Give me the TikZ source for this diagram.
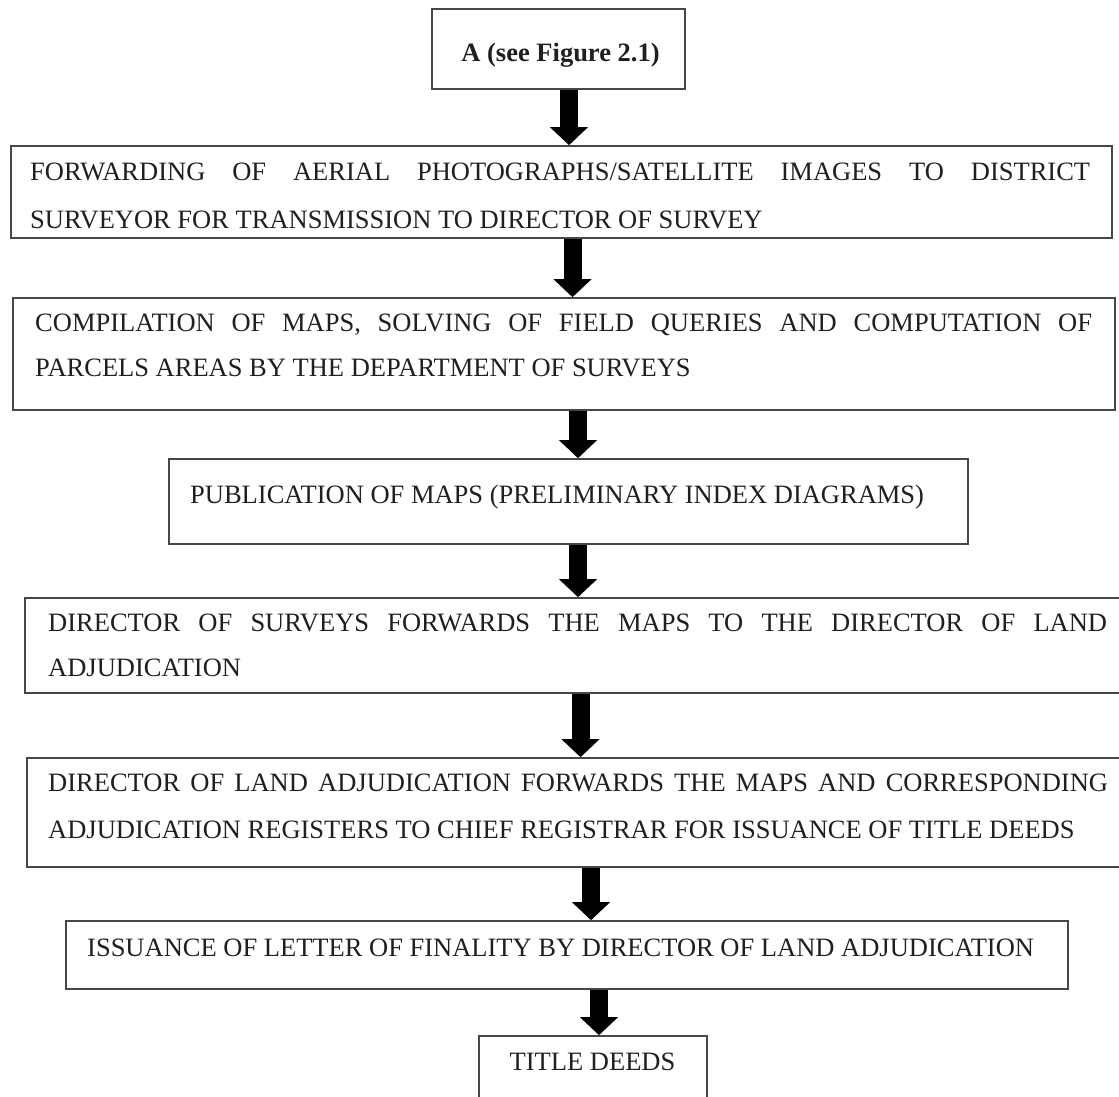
\documentclass[tikz,border=0pt]{standalone}
\usepackage{fontspec}
\setmainfont{Liberation Serif}
\usetikzlibrary{arrows.meta}
\tolerance=10000
\hbadness=10000
\begin{document}
\begin{tikzpicture}[x=1pt,y=-1pt,
  box/.style={draw=black!72, line width=1.6pt, inner sep=0pt, anchor=center},
  txt/.style={inner sep=0pt, anchor=base west, text=black!88,
    font=\fontsize{26.5}{#1}\selectfont, align=justify},
  txt/.default=46,
  flow/.style={line width=18pt, draw=black,
    -{Triangle[width=37pt,length=18pt]}}
]
\useasboundingbox (0,0) rectangle (1119,1097);
\clip (0,0) rectangle (1119,1097);

% boxes of the flow, top to bottom
\node[box, minimum width=253, minimum height=80] (b1) at (558.5,49) {};
\node[box, minimum width=1101, minimum height=92] (b2) at (561.5,192) {};
\node[box, minimum width=1102, minimum height=112] (b3) at (564,354) {};
\node[box, minimum width=799, minimum height=85] (b4) at (568.5,501.5) {};
\node[box, minimum width=1105, minimum height=95] (b5) at (577.5,645.5) {};
\node[box, minimum width=1103, minimum height=109] (b6) at (578.5,812.5) {};
\node[box, minimum width=1002, minimum height=68] (b7) at (567,955) {};
\node[box, minimum width=228, minimum height=74] (b8) at (593,1073) {};

% box texts
\node[inner sep=0pt, anchor=base, text=black!88,
  font=\fontsize{26.5}{30}\selectfont\bfseries] (t1) at (560.5,61.5) {A (see Figure 2.1)};
\node[txt=48, text width=1060] (t2) at (30,180.6)
  {FORWARDING OF AERIAL PHOTOGRAPHS/SATELLITE IMAGES TO DISTRICT\linebreak
   SURVEYOR FOR TRANSMISSION TO DIRECTOR OF SURVEY};
\node[txt=45, text width=1057] (t3) at (35,331.6)
  {COMPILATION OF MAPS, SOLVING OF FIELD QUERIES AND COMPUTATION OF\linebreak
   PARCELS AREAS BY THE DEPARTMENT OF SURVEYS};
\node[txt, text width=770] (t4) at (190,503.6)
  {PUBLICATION OF MAPS (PRELIMINARY INDEX DIAGRAMS)};
\node[txt=45, text width=1059] (t5) at (48,631.6)
  {DIRECTOR OF SURVEYS FORWARDS THE MAPS TO THE DIRECTOR OF LAND\linebreak
   ADJUDICATION};
\node[txt=47, text width=1060] (t6) at (48,791.6)
  {DIRECTOR OF LAND ADJUDICATION FORWARDS THE MAPS AND CORRESPONDING\linebreak
   ADJUDICATION REGISTERS TO CHIEF REGISTRAR FOR ISSUANCE OF TITLE DEEDS};
\node[txt, text width=975] (t7) at (87,956.6)
  {ISSUANCE OF LETTER OF FINALITY BY DIRECTOR OF LAND ADJUDICATION};
\node[inner sep=0pt, anchor=base, text=black!88,
  font=\fontsize{26.5}{30}\selectfont] (t8) at (592.5,1070.6) {TITLE DEEDS};

% block arrows between consecutive boxes
\draw[flow] ([xshift=10.5]b1.south) -- ([xshift=10.5]b1.south |- b2.north);
\draw[flow] ([xshift=11]b2.south) -- ([xshift=11]b2.south |- b3.north);
\draw[flow] ([xshift=14]b3.south) -- ([xshift=14]b3.south |- b4.north);
\draw[flow] ([xshift=9.5]b4.south) -- ([xshift=9.5]b4.south |- b5.north);
\draw[flow] ([xshift=3]b5.south) -- ([xshift=3]b5.south |- b6.north);
\draw[flow] ([xshift=12.5]b6.south) -- ([xshift=12.5]b6.south |- b7.north);
\draw[flow] ([xshift=32]b7.south) -- ([xshift=32]b7.south |- b8.north);
\end{tikzpicture}
\end{document}
